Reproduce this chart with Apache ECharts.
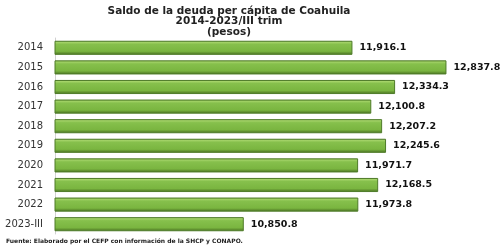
<!DOCTYPE html>
<html><head><meta charset="utf-8">
<script src="https://cdn.jsdelivr.net/npm/echarts@6/dist/echarts.min.js"></script>
<style>html,body{margin:0;padding:0;background:#fff}#c{width:500px;height:252px}</style>
</head><body><div id="c"></div>
<script>
var categories = ['2014','2015','2016','2017','2018','2019','2020','2021','2022','2023-III'];
var values = [11916.1, 12837.8, 12334.3, 12100.8, 12207.2, 12245.6, 11971.7, 12168.5, 11973.8, 10850.8];
var titleLines = ['Saldo de la deuda per cápita de Coahuila', '2014-2023/III trim', '(pesos)'];
var sourceText = 'Fuente: Elaborado por el CEFP con información de la SHCP y CONAPO.';

var chart = echarts.init(document.getElementById('c'), null, {renderer: 'canvas'});
function fmt(v){
  var s = v.toFixed(1).split('.');
  return s[0].replace(/\B(?=(\d{3})+(?!\d))/g, ',') + '.' + s[1];
}
chart.setOption({
  animation: false,
  title: {
    text: titleLines.join('\n'),
    left: 224, top: 1, textAlign: 'center',
    textStyle: {fontFamily: 'DejaVu Sans', fontWeight: 'bold', fontSize: 10.5, lineHeight: 10.5, color: '#222'}
  },
  graphic: [{
    type: 'text', left: 6, top: 238,
    style: {text: sourceText, font: 'bold 6px "DejaVu Sans"', fill: '#222'}
  }],
  grid: {left: 55, right: 37, top: 38, bottom: 18, containLabel: false},
  xAxis: {
    type: 'value', min: 9000, max: 13000, show: false
  },
  yAxis: {
    type: 'category', data: categories, inverse: true,
    axisLine: {show: true, lineStyle: {color: '#d0d0d0', width: 1}},
    axisTick: {show: false},
    axisLabel: {fontFamily: 'DejaVu Sans', fontSize: 10, color: '#333', margin: 12}
  },
  series: [{
    type: 'bar', data: values, barCategoryGap: '28%',
    itemStyle: {
      color: new echarts.graphic.LinearGradient(0, 0, 0, 1, [
        {offset: 0, color: '#6fa23a'},
        {offset: 0.1, color: '#a6d46a'},
        {offset: 0.25, color: '#86c04c'},
        {offset: 0.75, color: '#7ab540'},
        {offset: 0.88, color: '#5f8f2f'},
        {offset: 1, color: '#4a7424'}
      ]),
      borderColor: '#4e7b28', borderWidth: 1
    },
    label: {
      show: true, position: 'right', distance: 7,
      formatter: function(p){ return fmt(p.value); },
      fontFamily: 'DejaVu Sans', fontWeight: 'bold', fontSize: 9.5, color: '#111'
    }
  }]
});
</script></body></html>
